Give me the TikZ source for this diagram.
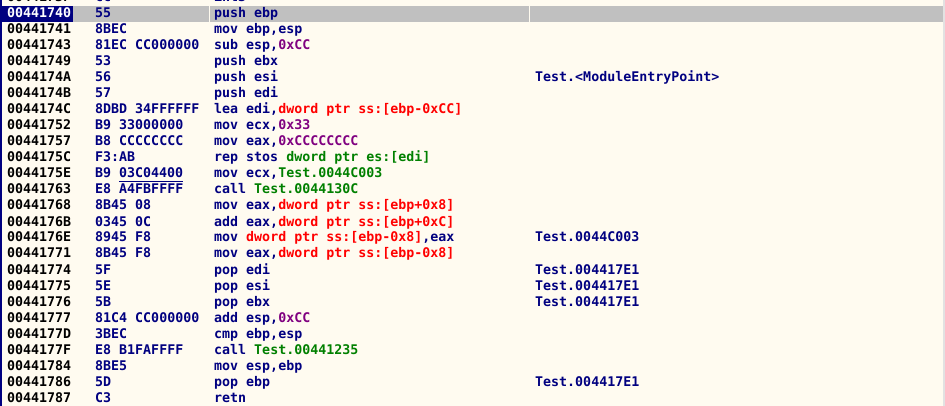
\documentclass[tikz,border=0pt]{standalone}
\usepackage{fontspec}
\usepackage{xcolor}
\newfontfamily\dbgfont{DejaVu Sans Mono}
\definecolor{dbgback}{HTML}{FFFBF0}
\definecolor{dbgnavy}{HTML}{000080}
\definecolor{dbgsel}{HTML}{C0C0C0}
\definecolor{dbgred}{HTML}{FF0000}
\definecolor{dbgpurple}{HTML}{800080}
\definecolor{dbggreen}{HTML}{008000}
\definecolor{dbgedge}{HTML}{E2E2E2}
\tikzstyle{cell}=[inner sep=0pt,anchor=base west,font=\dbgfont\bfseries\fontsize{13.3}{16}\selectfont]
\tikzstyle{addr}=[cell,text=black]
\tikzstyle{code}=[cell,text=dbgnavy]
\newcommand{\opmem}[1]{\textcolor{dbgred}{#1}}
\newcommand{\opcst}[1]{\textcolor{dbgpurple}{#1}}
\newcommand{\optgt}[1]{\textcolor{dbggreen}{#1}}
% one disassembly line: index, address, hex dump, command
\newcommand{\asmline}[4]{%
  \node[addr] (a#1) at (\xa,{2+16*#1}) {#2};
  \node[code] (h#1) at (\xh,{2+16*#1}) {#3};
  \node[code] (c#1) at (\xc,{2+16*#1}) {#4};}

\begin{document}
\begin{tikzpicture}[x=1pt,y=-1pt]

  % column variables
  \def\xa{7}
  \def\xh{95}
  \def\xc{214}
  \def\xm{535}

  % window
  \useasboundingbox (0,0) rectangle (945,406);
  \fill[dbgback] (0,0) rectangle (945,406);
  \fill[dbgnavy] (0,0) rectangle (2,406);
  \fill[dbgedge] (943,0) rectangle (945,406);

  % selected line
  \fill[dbgnavy] (0,6) rectangle (73,22);
  \fill[dbgsel] (73,6) rectangle (209,22);
  \fill[dbgsel] (210,6) rectangle (529,22);
  \fill[dbgsel] (530,6) rectangle (943,22);

  % disassembly
  \asmline{0}{0044173F}{CC}{int3}
  \asmline{1}{\textcolor{white}{00441740}}{55}{push ebp}
  \asmline{2}{00441741}{8BEC}{mov ebp,esp}
  \asmline{3}{00441743}{81EC CC000000}{sub esp,\opcst{0xCC}}
  \asmline{4}{00441749}{53}{push ebx}
  \asmline{5}{0044174A}{56}{push esi}
  \asmline{6}{0044174B}{57}{push edi}
  \asmline{7}{0044174C}{8DBD 34FFFFFF}{lea edi,\opmem{dword ptr ss:[ebp-0xCC]}}
  \asmline{8}{00441752}{B9 33000000}{mov ecx,\opcst{0x33}}
  \asmline{9}{00441757}{B8 CCCCCCCC}{mov eax,\opcst{0xCCCCCCCC}}
  \asmline{10}{0044175C}{F3:AB}{rep stos \optgt{dword ptr es:[edi]}}
  \asmline{11}{0044175E}{B9}{mov ecx,\optgt{Test.0044C003}}
  \asmline{12}{00441763}{E8 A4FBFFFF}{call \optgt{Test.0044130C}}
  \asmline{13}{00441768}{8B45 08}{mov eax,\opmem{dword ptr ss:[ebp+0x8]}}
  \asmline{14}{0044176B}{0345 0C}{add eax,\opmem{dword ptr ss:[ebp+0xC]}}
  \asmline{15}{0044176E}{8945 F8}{mov \opmem{dword ptr ss:[ebp-0x8]},eax}
  \asmline{16}{00441771}{8B45 F8}{mov eax,\opmem{dword ptr ss:[ebp-0x8]}}
  \asmline{17}{00441774}{5F}{pop edi}
  \asmline{18}{00441775}{5E}{pop esi}
  \asmline{19}{00441776}{5B}{pop ebx}
  \asmline{20}{00441777}{81C4 CC000000}{add esp,\opcst{0xCC}}
  \asmline{21}{0044177D}{3BEC}{cmp ebp,esp}
  \asmline{22}{0044177F}{E8 B1FAFFFF}{call \optgt{Test.00441235}}
  \asmline{23}{00441784}{8BE5}{mov esp,ebp}
  \asmline{24}{00441786}{5D}{pop ebp}
  \asmline{25}{00441787}{C3}{retn}

  % fixup operand
  \node[code] (u11) at (\xh+24,178) {03C04400};
  \draw[dbgnavy,line width=1pt]
    ([yshift=-3pt]u11.south west) -- ([yshift=-3pt]u11.south east);

  % comments
  \node[code] (m5) at (\xm,82) {Test.<ModuleEntryPoint>};
  \node[code] (m15) at (\xm,242) {Test.0044C003};
  \node[code] (m17) at (\xm,274) {Test.004417E1};
  \node[code] (m18) at (\xm,290) {Test.004417E1};
  \node[code] (m19) at (\xm,306) {Test.004417E1};
  \node[code] (m24) at (\xm,386) {Test.004417E1};

\end{tikzpicture}
\end{document}
